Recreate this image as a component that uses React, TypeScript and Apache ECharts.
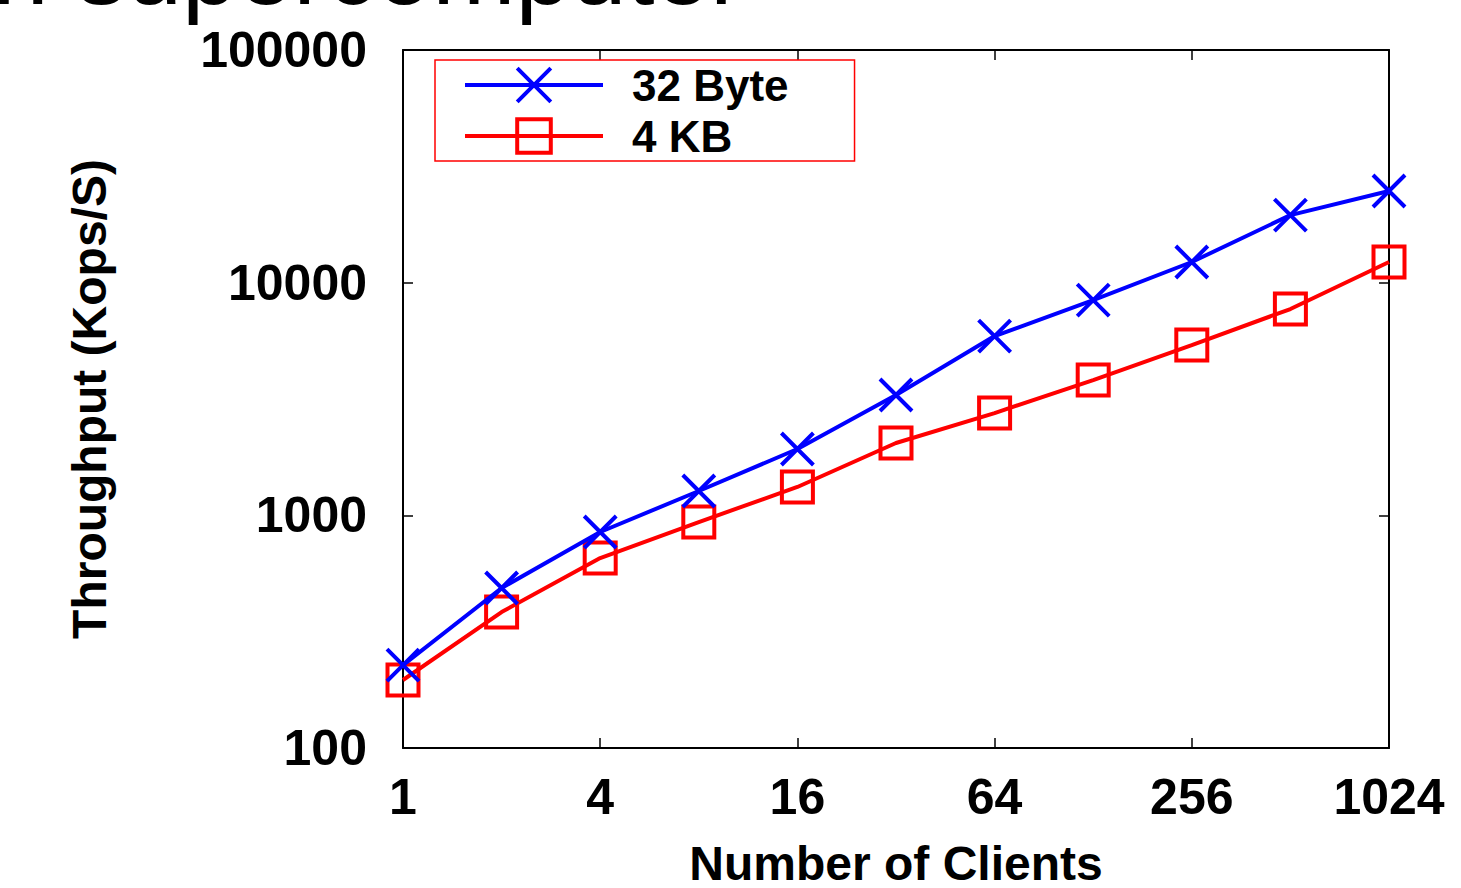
import React, { useEffect, useRef } from "react";
import * as echarts from "echarts";

const clients = [1, 2, 4, 8, 16, 32, 64, 128, 256, 512, 1024];
const bytes32 = [227, 487, 848, 1272, 1928, 3289, 5894, 8418, 12270, 19510, 24770];
const kb4 = [196, 384, 655, 936, 1324, 2046, 2752, 3814, 5393, 7704, 12270];
const seriesNames = ["32 Byte", "4 KB"];
const xAxisTitle = "Number of Clients";
const yAxisTitle = "Throughput (Kops/S)";
const clippedTitle = "n supercomputer";

const FONT = '"Liberation Sans", Arial, Helvetica, sans-serif';

export default function App() {
  const ref = useRef<HTMLDivElement | null>(null);

  useEffect(() => {
    if (!ref.current) return;
    const chart = echarts.init(ref.current, undefined, { renderer: "svg" });

    const axisCommonX = {
      type: "log" as const,
      logBase: 2,
      min: 1,
      max: 1024,
      interval: 2,
      axisLine: { show: true, lineStyle: { color: "#000", width: 2 } },
      axisTick: { show: true, inside: true, length: 10, lineStyle: { color: "#000", width: 1.5 } },
      minorTick: { show: false },
      splitLine: { show: false },
    };
    const axisCommonY = {
      type: "log" as const,
      logBase: 10,
      min: 100,
      max: 100000,
      axisLine: { show: true, lineStyle: { color: "#000", width: 2 } },
      axisTick: { show: true, inside: true, length: 10, lineStyle: { color: "#000", width: 1.5 } },
      minorTick: { show: false },
      splitLine: { show: false },
    };

    const fmt = (v: number) => String(Math.round(v));

    chart.setOption({
      animation: false,
      backgroundColor: "#fff",
      grid: {
        left: 403,
        right: 72,
        top: 50,
        bottom: 140,
        containLabel: false,
        outerBoundsMode: "none",
      },
      graphic: [
        {
          type: "text",
          x: -7,
          y: -31,
          style: {
            text: clippedTitle,
            fontSize: 100,
            fontFamily: FONT,
            fontWeight: "normal",
            fill: "#000",
            verticalAlign: "middle",
            align: "left",
          },
        },
      ],
      legend: {
        show: true,
        orient: "vertical",
        left: 435,
        top: 60,
        itemWidth: 138,
        itemHeight: 42,
        itemGap: 7,
        padding: [3, 66, 3, 28],
        borderColor: "#ff0000",
        borderWidth: 1.5,
        backgroundColor: "#fff",
        lineStyle: { width: 4 },
        itemStyle: { borderWidth: 4 },
        textStyle: {
          fontFamily: FONT,
          fontWeight: "bold",
          fontSize: 44,
          lineHeight: 42,
          color: "#000",
          padding: [0, 0, 0, 24],
        },
        data: seriesNames,
      },
      xAxis: [
        {
          ...axisCommonX,
          position: "bottom",
          name: xAxisTitle,
          nameLocation: "middle",
          nameGap: 91,
          nameTextStyle: { fontFamily: FONT, fontWeight: "bold", fontSize: 48, color: "#000" },
          axisLabel: {
            show: true,
            margin: 24,
            fontFamily: FONT,
            fontWeight: "bold",
            fontSize: 50,
            color: "#000",
            formatter: fmt,
          },
        },
        {
          ...axisCommonX,
          position: "top",
          axisLabel: { show: false },
        },
      ],
      yAxis: [
        {
          ...axisCommonY,
          position: "left",
          name: yAxisTitle,
          nameLocation: "middle",
          nameRotate: 90,
          nameGap: 290,
          nameTextStyle: { fontFamily: FONT, fontWeight: "bold", fontSize: 48, color: "#000" },
          axisLabel: {
            show: true,
            margin: 36,
            fontFamily: FONT,
            fontWeight: "bold",
            fontSize: 50,
            color: "#000",
            formatter: fmt,
          },
        },
        {
          ...axisCommonY,
          position: "right",
          axisLabel: { show: false },
        },
      ],
      series: [
        {
          name: seriesNames[0],
          type: "line",
          xAxisIndex: 0,
          yAxisIndex: 0,
          clip: false,
          data: clients.map((c, i) => [c, bytes32[i]]),
          symbol: "path://M0,0L10,10M10,0L0,10",
          symbolSize: 32,
          lineStyle: { color: "#0000ff", width: 4 },
          itemStyle: { color: "#0000ff", borderColor: "#0000ff", borderWidth: 4 },
          z: 3,
        },
        {
          name: seriesNames[1],
          type: "line",
          xAxisIndex: 0,
          yAxisIndex: 0,
          clip: false,
          data: clients.map((c, i) => [c, kb4[i]]),
          symbol: "rect",
          symbolSize: 31,
          lineStyle: { color: "#ff0000", width: 4 },
          itemStyle: { color: "transparent", borderColor: "#ff0000", borderWidth: 4 },
          z: 2,
        },
      ],
    });

    return () => {
      chart.dispose();
    };
  }, []);

  return (
    <div
      ref={ref}
      style={{ position: "fixed", left: 0, top: 0, width: 1461, height: 888, background: "#fff" }}
    />
  );
}
